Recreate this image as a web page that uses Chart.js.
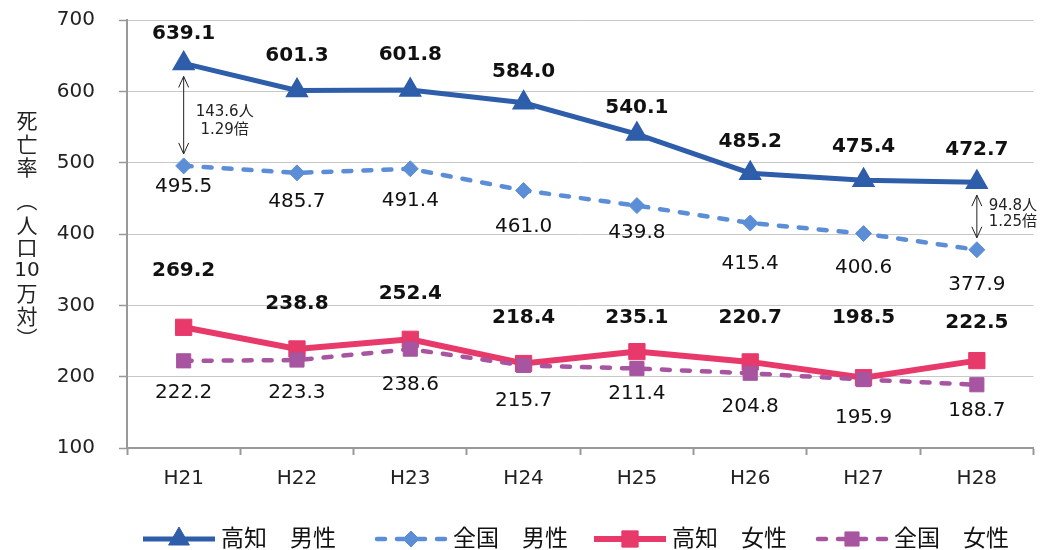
<!DOCTYPE html>
<html><head><meta charset="utf-8">
<script src="https://cdn.jsdelivr.net/npm/chart.js@4/dist/chart.umd.min.js"></script>
<style>html,body{margin:0;padding:0;background:#fff}#wrap{width:1047px;height:550px;position:relative}</style>
</head><body><div id="wrap"><canvas id="c" width="1047" height="550"></canvas></div>
<script>
// ---- data ----
const categories = ['H21','H22','H23','H24','H25','H26','H27','H28'];
const kochiMale = [639.1,601.3,601.8,584.0,540.1,485.2,475.4,472.7];
const nationalMale = [495.5,485.7,491.4,461.0,439.8,415.4,400.6,377.9];
const kochiFemale = [269.2,238.8,252.4,218.4,235.1,220.7,198.5,222.5];
const nationalFemale = [222.2,223.3,238.6,215.7,211.4,204.8,195.9,188.7];
const seriesNames = ['高知　男性','全国　男性','高知　女性','全国　女性'];
const yTicks = [100,200,300,400,500,600,700];
const yTitleChars = ['死','亡','率','︵','人','口','10','万','対','︶'];

// ---- styling (pixel offsets of value labels from their points) ----
const offKM = [-30,-35,-35,-31,-26,-31,-33,-32];
const offNM = [21,29,32,36,27,41,34,35];
const offKF = [-57,-45,-45,-46,-34,-44,-60,-38];
const offNF = [32,33,36,35,25,34,38,26];
const colors = ['#2E5DAA','#5B8ED6','#E8396B','#A755A0'];
const NUMFONT = '"DejaVu Sans","Noto Sans CJK JP",sans-serif';
const CJKFONT = '"Noto Sans CJK JP","DejaVu Sans",sans-serif';

const datasets = [
  {label:seriesNames[0], data:kochiMale, borderColor:colors[0], backgroundColor:colors[0], borderWidth:5,
   pointStyle:'triangle', pointRadius:12, pointBorderWidth:1.5, pointBorderColor:colors[0], order:4,
   _bold:true, _off:offKM},
  {label:seriesNames[1], data:nationalMale, borderColor:colors[1], backgroundColor:colors[1], borderWidth:4.5,
   borderDash:[8,12], borderCapStyle:'round',
   pointStyle:'rectRot', pointRadius:8, pointBorderWidth:1, pointBorderColor:colors[1], order:3,
   _bold:false, _off:offNM},
  {label:seriesNames[2], data:kochiFemale, borderColor:colors[2], backgroundColor:colors[2], borderWidth:6,
   pointStyle:'rect', pointRadius:11.5, pointBorderWidth:1, pointBorderColor:colors[2], order:2,
   _bold:true, _off:offKF},
  {label:seriesNames[3], data:nationalFemale, borderColor:colors[3], backgroundColor:colors[3], borderWidth:4.5,
   borderDash:[8,12], borderCapStyle:'round',
   pointStyle:'rect', pointRadius:10, pointBorderWidth:1, pointBorderColor:colors[3], order:1,
   _bold:false, _off:offNF}
];

function drawMarker(ctx, style, r, x, y, color){
  ctx.save();
  ctx.fillStyle = color; ctx.strokeStyle = color; ctx.lineWidth = 1;
  ctx.beginPath();
  if(style==='triangle'){
    ctx.moveTo(x, y-r);
    ctx.lineTo(x+0.866*r, y+0.5*r);
    ctx.lineTo(x-0.866*r, y+0.5*r);
    ctx.closePath();
  } else if(style==='rectRot'){
    ctx.moveTo(x, y-r); ctx.lineTo(x+r, y); ctx.lineTo(x, y+r); ctx.lineTo(x-r, y); ctx.closePath();
  } else {
    const s = r*Math.SQRT1_2;
    ctx.rect(x-s, y-s, 2*s, 2*s);
  }
  ctx.fill(); ctx.stroke();
  ctx.restore();
}

function arrow(ctx, x, y1, y2){
  ctx.save();
  ctx.strokeStyle = '#222'; ctx.lineWidth = 1;
  ctx.beginPath();
  ctx.moveTo(x, y1); ctx.lineTo(x, y2);
  ctx.moveTo(x-5, y1+11); ctx.lineTo(x, y1); ctx.lineTo(x+5, y1+11);
  ctx.moveTo(x-5, y2-11); ctx.lineTo(x, y2); ctx.lineTo(x+5, y2-11);
  ctx.stroke();
  ctx.restore();
}

const overlay = {
  id:'overlay',
  afterDatasetsDraw(chart){
    const ctx = chart.ctx;
    chart.data.datasets.forEach((ds, i) => {
      const meta = chart.getDatasetMeta(i);
      ctx.save();
      ctx.font = (ds._bold ? 'bold ' : '') + '20px ' + NUMFONT;
      ctx.fillStyle = '#111';
      ctx.textAlign = 'center'; ctx.textBaseline = 'middle';
      meta.data.forEach((pt, j) => {
        ctx.fillText(ds.data[j].toFixed(1), pt.x, pt.y + ds._off[j]);
      });
      ctx.restore();
    });
    const m0 = chart.getDatasetMeta(0), m1 = chart.getDatasetMeta(1);
    const ann = [
      {idx:0, dx:41, l1:49, l2:67},
      {idx:categories.length-1, dx:36, l1:24, l2:40}
    ];
    ann.forEach(a => {
      const p0 = m0.data[a.idx], p1 = m1.data[a.idx];
      arrow(ctx, p0.x, p0.y + 13, p1.y - 12);
      const diff = kochiMale[a.idx] - nationalMale[a.idx];
      const ratio = kochiMale[a.idx] / nationalMale[a.idx];
      ctx.save();
      ctx.font = '15px ' + NUMFONT;
      ctx.fillStyle = '#222'; ctx.textAlign = 'center'; ctx.textBaseline = 'middle';
      ctx.fillText(diff.toFixed(1) + '人', p0.x + a.dx, p0.y + a.l1);
      ctx.fillText(ratio.toFixed(2) + '倍', p0.x + a.dx, p0.y + a.l2);
      ctx.restore();
    });
  },
  afterDraw(chart){
    const ctx = chart.ctx;
    const ys = [120,144,167,200,225,247,271,293,316,338];
    ctx.save();
    ctx.fillStyle = '#222'; ctx.textAlign = 'center'; ctx.textBaseline = 'middle';
    yTitleChars.forEach((c, k) => {
      ctx.font = (c==='10') ? '20px ' + NUMFONT : '21px ' + CJKFONT;
      ctx.fillText(c, 27, ys[k]);
    });
    ctx.restore();
    const starts = [143, 375, 594, 816];
    const ly = 539;
    chart.data.datasets.forEach((ds, i) => {
      const x0 = starts[i];
      ctx.save();
      ctx.strokeStyle = ds.borderColor; ctx.lineWidth = ds.borderWidth;
      ctx.lineCap = ds.borderCapStyle || 'butt';
      ctx.setLineDash(ds.borderDash || []);
      ctx.beginPath();
      if(ds.borderDash){ ctx.moveTo(x0+2, ly); ctx.lineTo(x0+72, ly); }
      else { ctx.moveTo(x0, ly); ctx.lineTo(x0+72, ly); }
      ctx.stroke();
      ctx.restore();
      drawMarker(ctx, ds.pointStyle, ds.pointRadius, x0+36, ly, ds.borderColor);
      ctx.save();
      ctx.font = '23px ' + CJKFONT;
      ctx.fillStyle = '#111'; ctx.textAlign = 'left'; ctx.textBaseline = 'middle';
      ctx.fillText(ds.label, x0+78, ly-2);
      ctx.restore();
    });
  }
};

new Chart(document.getElementById('c'), {
  type:'line',
  data:{labels:categories, datasets:datasets},
  options:{
    responsive:false, animation:false, devicePixelRatio:1,
    layout:{padding:{top:20, right:9, left:0, bottom:0}},
    elements:{line:{tension:0}},
    plugins:{legend:{display:false}, tooltip:{enabled:false}},
    scales:{
      x:{
        offset:true,
        grid:{offset:true, drawOnChartArea:false, drawTicks:true, tickLength:7, tickColor:'#999', tickWidth:2},
        border:{color:'#999', width:2},
        ticks:{font:{family:NUMFONT, size:20}, color:'#222', padding:12, maxRotation:0},
        afterFit(s){ s.height = 102; s.paddingLeft = 0; s.paddingRight = 0; }
      },
      y:{
        min:100, max:700,
        afterBuildTicks(s){ s.ticks = yTicks.map(v => ({value:v})); },
        grid:{color:'#c8c8c8', lineWidth:1, drawTicks:true, tickLength:8, tickColor:'#999', tickWidth:1.5},
        border:{color:'#999', width:2},
        ticks:{font:{family:NUMFONT, size:20}, color:'#222', padding:24},
        afterFit(s){ s.width = 127; s.paddingTop = 0; s.paddingBottom = 0; }
      }
    }
  },
  plugins:[overlay]
});
</script>
</body></html>
